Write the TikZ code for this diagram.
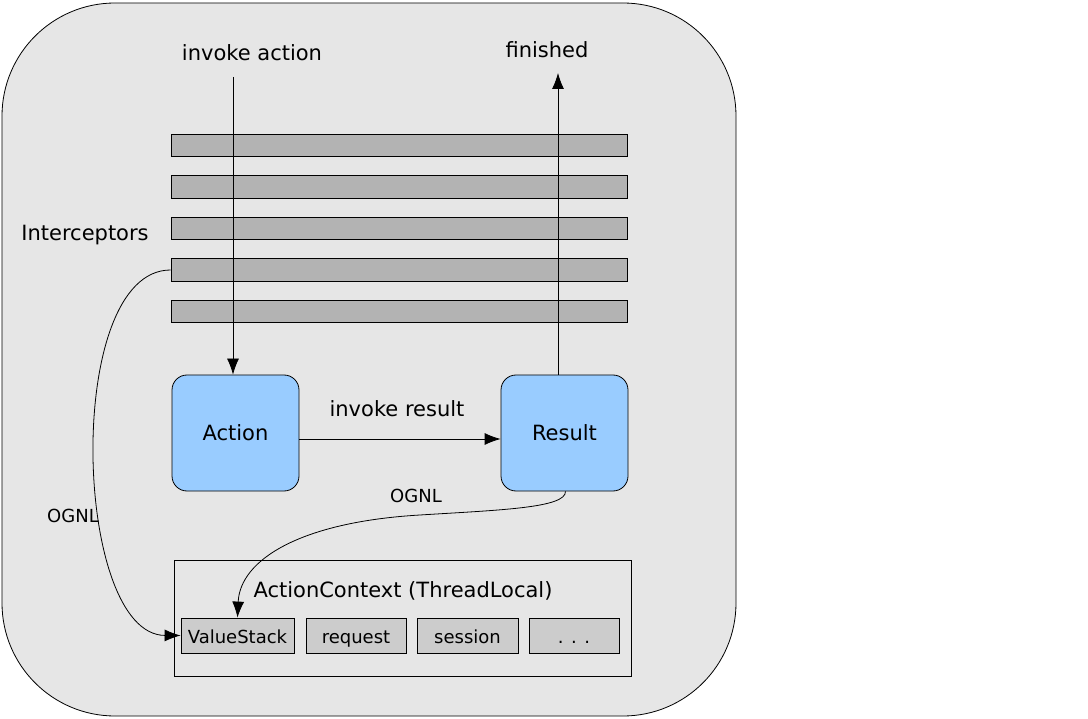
\documentclass[tikz,border=0pt]{standalone}
\usepackage{fontspec}
\setmainfont{DejaVu Sans}
\usepackage{tikz}
\usetikzlibrary{arrows.meta,shapes,positioning}
\definecolor{framegray}{HTML}{E6E6E6}
\definecolor{bargray}{HTML}{B3B3B3}
\definecolor{slotgray}{HTML}{CCCCCC}
\definecolor{boxblue}{HTML}{99CCFF}

\begin{document}
\begin{tikzpicture}[x=1pt,y=-1pt,
frame/.style={
rectangle,
draw,
fill=framegray,
rounded corners=113pt,
minimum width=734pt,
minimum height=713pt
},
bar/.style={
rectangle,
draw,
fill=bargray,
minimum width=456pt,
minimum height=22.5pt
},
block/.style={
rectangle,
draw,
fill=boxblue,
rounded corners=15pt,
minimum width=127pt,
minimum height=116pt,
font=\fontsize{21}{25}\selectfont
},
slot/.style={
rectangle,
draw,
fill=slotgray,
minimum height=35pt,
inner sep=0pt,
text height=17pt,
text depth=2pt,
font=\fontsize{18}{22}\selectfont
},
big/.style={font=\fontsize{21}{25}\selectfont},
small/.style={font=\fontsize{18}{22}\selectfont},
to/.style={-{Latex[length=16pt,width=12pt]},line width=0.8pt},
every node/.style={line width=0.8pt}
]
\useasboundingbox (0,0) rectangle (1088,719);
\node (frame) [frame] at (369,359.5) {};
% interceptor stack
\node (bar1) [bar] at (399,145.5) {};
\node (bar2) [bar] at (399,187) {};
\node (bar3) [bar] at (399,228.5) {};
\node (bar4) [bar] at (399,270) {};
\node (bar5) [bar] at (399,311.5) {};
\node (icpt) [big] at (85,235) {Interceptors};
\node (invoke) [big] at (252,53) {invoke action};
\node (finished) [big] at (547,50) {finished};
\node (action) [block] at (235.5,433) {Action};
\node (result) [block] at (564.5,433) {Result};
\node (invres) [big] at (397,409) {invoke result};
% action context
\node (ctx) [rectangle,draw,fill=framegray,minimum width=457pt,minimum height=116pt] at (402.5,618) {};
\node (ctxlabel) [big] at (403,591) {ActionContext (ThreadLocal)};
\node (vstack) [slot,minimum width=113pt] at (237.5,635.5) {ValueStack};
\node (request) [slot,minimum width=100pt] at (356,635.5) {request};
\node (session) [slot,minimum width=101pt] at (467.5,635.5) {session};
\node (dots) [slot,minimum width=90pt] at (574,635.5) {. . .};
\node (ognlA) [small] at (73,516) {OGNL};
\node (ognlB) [small] at (416,496) {OGNL};
\coordinate (start) at (233,77);
\coordinate (end) at (558,73);
\draw[to] (start) -- (start |- action.north);
\draw[to] (end |- result.north) -- (end);
\draw[to] ([yshift=-6pt]action.east) -- ([yshift=-6pt]result.west);
\draw[to] (bar4.west) .. controls (63,270) and (73,635) .. (vstack.west);
\draw[to] ([xshift=1pt]result.south) .. controls (566,508) and (500,510) .. (420,515)
  .. controls (300,522) and (240,560) .. (vstack.north);
\end{tikzpicture}
\end{document}
